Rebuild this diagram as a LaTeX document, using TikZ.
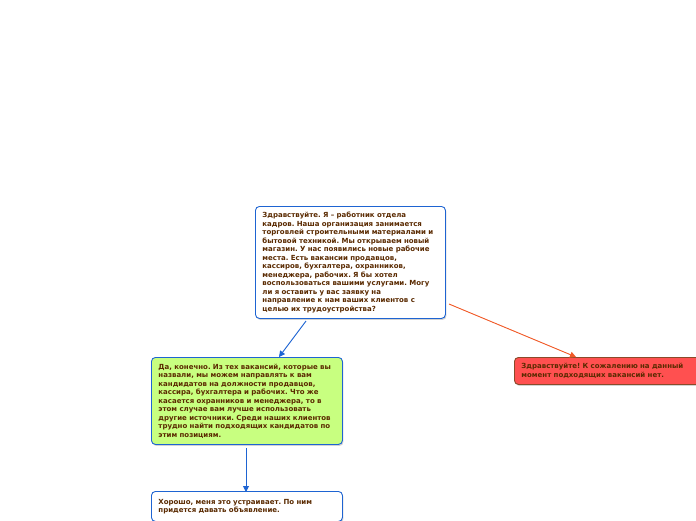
\documentclass[tikz,border=0pt]{standalone}
\usepackage{fontspec}
\setmainfont{DejaVu Sans}
\usetikzlibrary{arrows.meta}
\frenchspacing
\definecolor{txt}{HTML}{5A2A00}
\definecolor{bblue}{HTML}{1E64D2}
\definecolor{gfill}{HTML}{C8FF80}
\definecolor{rfill}{HTML}{FF5050}
\definecolor{rborder}{HTML}{8A4A2A}
\definecolor{oline}{HTML}{F05A28}
\tikzset{
  box/.style={draw=bblue, fill=white, line width=0.9pt, rounded corners=4pt,
    align=left, inner xsep=7pt, inner ysep=0pt, anchor=north west,
    font=\fontsize{7}{8.5}\selectfont\bfseries\frenchspacing, text=txt},
  shadowed/.style={preaction={fill=black!35, opacity=0.5, transform canvas={xshift=1pt,yshift=-1.5pt}}},
  arr/.style={line width=0.9pt, -{Triangle[length=6pt,width=6pt]}}
}
\begin{document}
\begin{tikzpicture}[x=1pt,y=-1pt]
\useasboundingbox (0,0) rectangle (696,520);
\clip (0,0) rectangle (696,520);
\node[box, shadowed, text width=176pt, minimum height=112pt] (q) at (255,206) {Здравствуйте. Я – работник отдела\\кадров. Наша организация занимается\\торговлей строительными материалами и\\бытовой техникой. Мы открываем новый\\магазин. У нас появились новые рабочие\\места. Есть вакансии продавцов,\\кассиров, бухгалтера, охранников,\\менеджера, рабочих. Я бы хотел\\воспользоваться вашими услугами. Могу\\ли я оставить у вас заявку на\\направление к нам ваших клиентов с\\целью их трудоустройства?};
\node[box, shadowed, fill=gfill, text width=177pt, minimum height=87pt] (g) at (151,357) {Да, конечно. Из тех вакансий, которые вы\\назвали, мы можем направлять к вам\\кандидатов на должности продавцов,\\кассира, бухгалтера и рабочих. Что же\\касается охранников и менеджера, то в\\этом случае вам лучше использовать\\другие источники. Среди наших клиентов\\трудно найти подходящих кандидатов по\\этим позициям.};
\node[box, shadowed, draw=rborder, fill=rfill, text width=177pt, minimum height=27pt] (r) at (514,357) {Здравствуйте! К сожалению на данный\\момент подходящих вакансий нет.};
\node[box, shadowed, text width=177pt, minimum height=30pt] (b) at (151,491) {Хорошо, меня это устраивает. По ним\\придется давать объявление.};
\coordinate (s1) at (306,321);
\coordinate (e1) at (279,357);
\coordinate (s2) at (449,304);
\coordinate (e2) at (576,357);
\coordinate (s3) at (246,448);
\coordinate (e3) at (246,492);
\draw[arr, draw=bblue, fill=bblue] (s1) -- (e1);
\draw[arr, draw=oline, fill=oline] (s2) -- (e2);
\draw[arr, draw=bblue, fill=bblue] (s3) -- (e3);
\end{tikzpicture}
\end{document}
